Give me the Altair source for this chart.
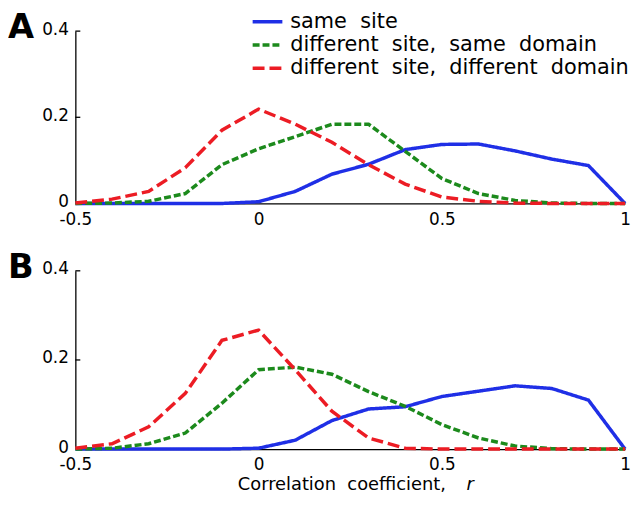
import altair as alt
import pandas as pd

# ---- data ----
R = [-0.5, -0.4, -0.3, -0.2, -0.1, 0.0, 0.1, 0.2, 0.3, 0.4, 0.5, 0.6, 0.7, 0.8, 0.9, 1.0]

SERIES = ["same site", "different site, same domain", "different site, different domain"]
COLORS = ["#1f2fe6", "#1c8a1c", "#ec1c24"]
DASHES = [[1, 0], [7, 3], [12, 5]]

A_same = [0, 0, 0, 0, 0, 0.004, 0.028, 0.068, 0.091, 0.125, 0.137, 0.138, 0.122, 0.103, 0.088, 0]
A_same_domain = [0, 0.001, 0.005, 0.023, 0.090, 0.127, 0.155, 0.184, 0.184, 0.121, 0.058, 0.023, 0.007, 0.001, 0, 0]
A_diff_domain = [0.001, 0.010, 0.028, 0.083, 0.170, 0.219, 0.184, 0.142, 0.090, 0.045, 0.015, 0.005, 0.001, 0, 0, 0]

B_same = [0, 0, 0, 0, 0, 0.002, 0.020, 0.064, 0.090, 0.095, 0.118, 0.130, 0.142, 0.136, 0.110, 0]
B_same_domain = [0, 0.002, 0.012, 0.036, 0.103, 0.178, 0.184, 0.168, 0.129, 0.096, 0.055, 0.025, 0.007, 0.001, 0, 0]
B_diff_domain = [0.002, 0.012, 0.050, 0.125, 0.244, 0.267, 0.178, 0.085, 0.025, 0.002, 0, 0, 0, 0, 0, 0]

X_TICKS = [-0.5, 0, 0.5, 1]
Y_TICKS = [0, 0.2, 0.4]

FONT = "DejaVu Sans"
W = 555
HA = 174
HB = 180
LEG_Y = [-9.5, 14, 37.5]   # legend row centres, relative to panel A's plot top

DISPLAY = [s.replace(" ", "\u00a0\u00a0") for s in SERIES]


def make_df(vals):
    rows = []
    for name, ys in zip(DISPLAY, vals):
        for x, y in zip(R, ys):
            rows.append({"r": x, "p": y, "series": name})
    return pd.DataFrame(rows)


def panel(vals, h, letter, show_legend):
    df = make_df(vals)
    color = alt.Color("series:N", scale=alt.Scale(domain=DISPLAY, range=COLORS), legend=None)
    dash = alt.StrokeDash("series:N", scale=alt.Scale(domain=DISPLAY, range=DASHES), legend=None)
    xenc = alt.X("r:Q", scale=alt.Scale(domain=[-0.5, 1], nice=False, zero=False),
                 axis=alt.Axis(values=X_TICKS, labelExpr="'' + datum.value", title=None))
    yenc = alt.Y("p:Q", scale=alt.Scale(domain=[0, 0.4], nice=False),
                 axis=alt.Axis(values=Y_TICKS, labelExpr="'' + datum.value", title=None))
    layers = []
    for name in DISPLAY:
        layers.append(
            alt.Chart(df).transform_filter(alt.datum.series == name)
            .mark_line(strokeWidth=3.5, strokeCap="butt")
            .encode(x=xenc, y=yenc, color=color, strokeDash=dash)
        )
    ticks = alt.Chart(pd.DataFrame({"v": Y_TICKS[1:]})).mark_rule(color="black", strokeWidth=1.3).encode(
        y=alt.Y("v:Q"), x=alt.value(0), x2=alt.value(5)
    )
    lab = alt.Chart(pd.DataFrame({"t": [letter]})).mark_text(
        font=FONT, fontSize=34, fontWeight="bold", align="left", baseline="top", color="black"
    ).encode(text="t:N", x=alt.value(-68), y=alt.value(-20))
    layers += [ticks, lab]
    if show_legend:
        for i, (name, col, dsh) in enumerate(zip(DISPLAY, COLORS, DASHES)):
            ldf = pd.DataFrame({"s": [name]})
            layers.append(
                alt.Chart(ldf).mark_rule(color=col, strokeDash=dsh, strokeWidth=3.5, strokeCap="butt")
                .encode(x=alt.value(179), x2=alt.value(209), y=alt.value(LEG_Y[i]))
            )
            layers.append(
                alt.Chart(ldf).mark_text(font=FONT, fontSize=21, align="left", baseline="middle", color="black")
                .encode(text="s:N", x=alt.value(217), y=alt.value(LEG_Y[i]))
            )
    else:
        t1 = alt.Chart(pd.DataFrame({"t": ["Correlation\u00a0\u00a0coefficient,"]})).mark_text(
            font=FONT, fontSize=18, align="left", baseline="middle", color="black"
        ).encode(text="t:N", x=alt.value(164), y=alt.value(h + 36))
        t2 = alt.Chart(pd.DataFrame({"t": ["r"]})).mark_text(
            font=FONT, fontSize=18, fontStyle="italic", align="left", baseline="middle", color="black"
        ).encode(text="t:N", x=alt.value(395), y=alt.value(h + 36))
        layers += [t1, t2]
    return alt.layer(*layers).properties(width=W, height=h)


chart = alt.vconcat(
    panel([A_same, A_same_domain, A_diff_domain], HA, "A", True),
    panel([B_same, B_same_domain, B_diff_domain], HB, "B", False),
    spacing=24,
).properties(
    padding={"left": 0, "top": 0, "right": 0, "bottom": 0},
    background="white",
).configure_view(stroke=None).configure_axis(
    grid=False, domainColor="black", domainWidth=1.3, ticks=False, tickSize=0,
    labelFont=FONT, labelFontSize=17, labelColor="black", labelFlush=False,
).configure_axisX(labelPadding=8).configure_axisY(labelPadding=7, labelOffset=-2)

chart.save("out.html", embed_options={"renderer": "svg", "actions": False})
